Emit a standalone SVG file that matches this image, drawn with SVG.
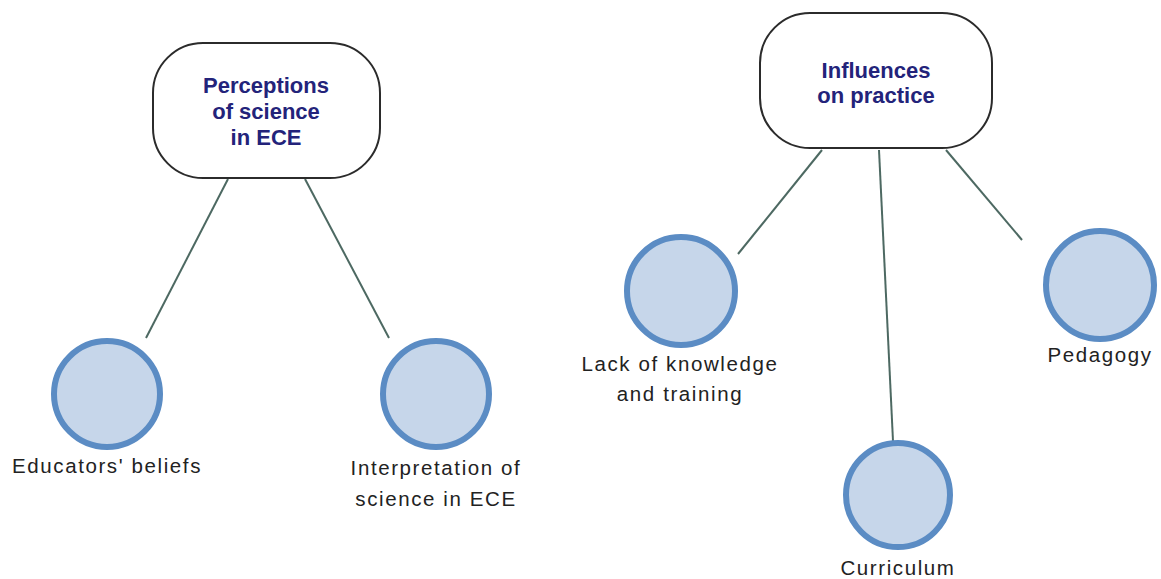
<svg xmlns="http://www.w3.org/2000/svg" width="1161" height="579" viewBox="0 0 1161 579">
<style>
.box{fill:#fff;stroke:#2b2b2b;stroke-width:2}
.title{font-family:"Liberation Sans",Arial,sans-serif;font-weight:bold;font-size:22px;fill:#23237a;text-anchor:middle}
.circ{fill:#c6d6ea;stroke:#5b8cc4;stroke-width:6}
.lbl{font-family:"Liberation Sans",Arial,sans-serif;font-size:20.5px;fill:#222;text-anchor:middle;letter-spacing:1.6px}
.conn line{stroke:#4d6962;stroke-width:2}
</style>
<rect width="1161" height="579" fill="#fff"/>
<g class="conn" id="connectors">
<line x1="228" y1="179" x2="146" y2="338"/>
<line x1="305" y1="179" x2="389" y2="338"/>
<line x1="822" y1="150" x2="738" y2="254"/>
<line x1="879" y1="150" x2="893" y2="441"/>
<line x1="946" y1="150" x2="1022" y2="240"/>
</g>
<g id="perceptions">
<rect class="box" x="153" y="43" width="227" height="135" rx="50"/>
<text class="title"><tspan x="266" y="93">Perceptions</tspan><tspan x="266" y="119">of science</tspan><tspan x="266" y="145">in ECE</tspan></text>
</g>
<g id="influences">
<rect class="box" x="760" y="13" width="232" height="135" rx="50"/>
<text class="title"><tspan x="876" y="78">Influences</tspan><tspan x="876" y="103">on practice</tspan></text>
</g>
<g id="educators">
<circle class="circ" cx="107" cy="394" r="53"/>
<text class="lbl" x="107" y="473">Educators' beliefs</text>
</g>
<g id="interpretation">
<circle class="circ" cx="436" cy="394" r="53"/>
<text class="lbl"><tspan x="436" y="475">Interpretation of</tspan><tspan x="436" y="506">science in ECE</tspan></text>
</g>
<g id="lack">
<circle class="circ" cx="681" cy="291" r="54"/>
<text class="lbl"><tspan x="680" y="371">Lack of knowledge</tspan><tspan x="680" y="401">and training</tspan></text>
</g>
<g id="curriculum">
<circle class="circ" cx="898" cy="495" r="52"/>
<text class="lbl" x="898" y="575">Curriculum</text>
</g>
<g id="pedagogy">
<circle class="circ" cx="1100" cy="285" r="54"/>
<text class="lbl" x="1100" y="362">Pedagogy</text>
</g>
</svg>
